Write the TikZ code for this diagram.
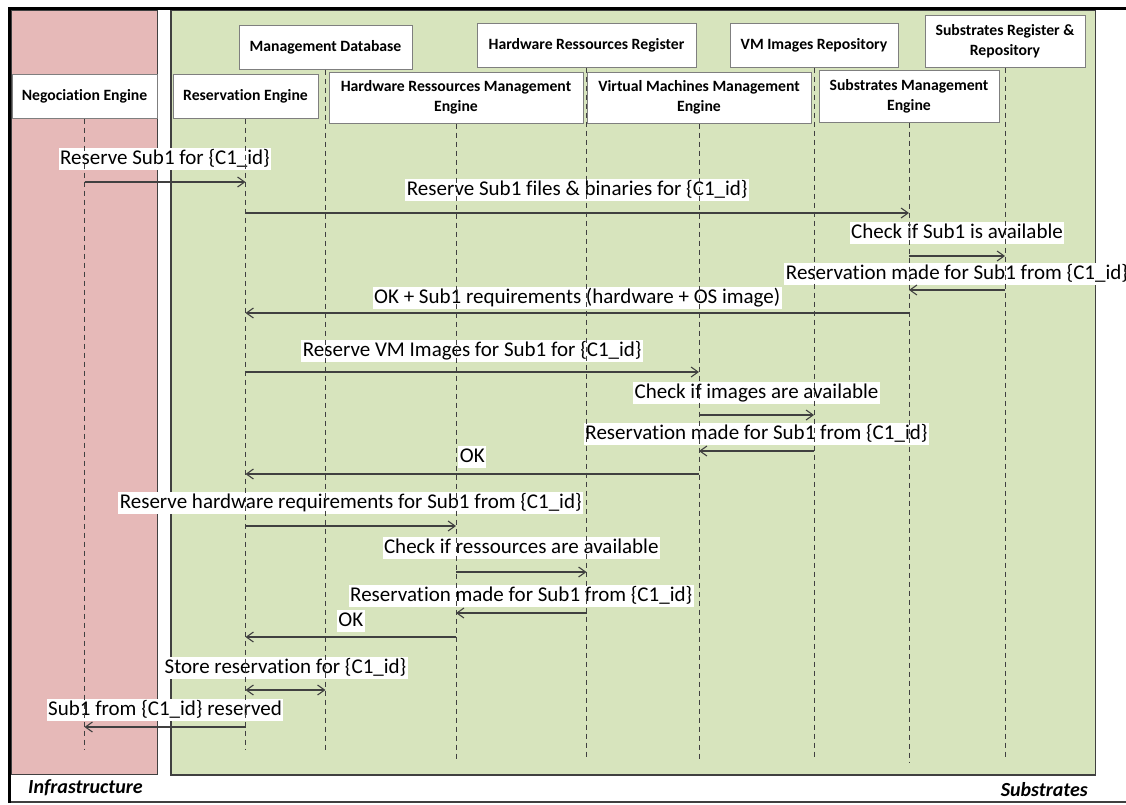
\documentclass[tikz,border=0pt]{standalone}
\usepackage{fontspec}
\setmainfont{Carlito}[Ligatures=NoCommon]
\usetikzlibrary{arrows.meta,calc}
\definecolor{infra}{HTML}{E6B9B8}
\definecolor{subs}{HTML}{D7E4BD}
\definecolor{edge}{HTML}{404040}
\definecolor{boxedge}{HTML}{7F7F7F}

% message: [style]{name}{from}{to}{arrow y}{label y}{text}
\newcommand\seqmsg[7][msg]{%
  \node[lbl] (#2) at ($(#3 |- 0,#6)!0.5!(#4 |- 0,#6)$) {#7};
  \draw[#1] (#3 |- 0,#5) -- (#4 |- 0,#5);
}

\begin{document}
\begin{tikzpicture}[x=1pt,y=-1pt,
  actor/.style={draw=boxedge, line width=1pt, fill=white, align=center, inner sep=0pt,
    font=\fontsize{15.7}{20}\selectfont\bfseries},
  lifeline/.style={draw=edge, line width=1pt, dash pattern=on 5pt off 4pt},
  msg/.style={draw=edge, line width=1.1pt, -{Straight Barb[length=7pt,width=10pt]}},
  msgboth/.style={draw=edge, line width=1.1pt,
    {Straight Barb[length=7pt,width=10pt]}-{Straight Barb[length=7pt,width=10pt]}},
  lbl/.style={fill=white, inner xsep=1.5pt, inner ysep=1pt, text height=15pt, text depth=5pt,
    font=\fontsize{21}{25}\selectfont},
  zone/.style={inner sep=0pt, font=\fontsize{20}{24}\selectfont\bfseries\itshape}
]
\useasboundingbox (0,0) rectangle (1126,804);
\fill[white] (0,0) rectangle (1126,804);

% swimlanes
\draw[fill=infra, draw=edge, line width=1pt] (11,10) rectangle (157.5,774.5);
\draw[fill=subs, draw=edge, line width=1.3pt] (171,10) rectangle (1095.5,775);

% outer frame
\draw[line width=1.8pt, draw=edge] (9.5,802) -- (1140,802);
\draw[line width=3pt] (9.5,803) -- (9.5,8.5) -- (1140,8.5);

\node[zone, anchor=west] (infraname) at (28,788) {Infrastructure};
\node[zone, anchor=east] (subsname) at (1088,790) {Substrates};

% participants
\node[actor, minimum width=145pt, minimum height=44pt] (neg) at (84.5,96) {Negociation Engine};
\node[actor, minimum width=145pt, minimum height=44pt] (res) at (245.5,96) {Reservation Engine};
\node[actor, minimum width=173pt, minimum height=44pt] (mdb) at (325.5,47) {Management Database};
\node[actor, minimum width=254pt, minimum height=51pt] (hwm) at (456,97.5) {Hardware Ressources Management\\Engine};
\node[actor, minimum width=219pt, minimum height=44pt] (hwr) at (586.5,45) {Hardware Ressources Register};
\node[actor, minimum width=224pt, minimum height=51pt] (vmm) at (699,97.5) {Virtual Machines Management\\Engine};
\node[actor, minimum width=168pt, minimum height=44pt] (vmr) at (814,45) {VM Images Repository};
\node[actor, minimum width=180pt, minimum height=52pt] (sme) at (909,96) {Substrates Management\\Engine};
\node[actor, minimum width=160pt, minimum height=52pt] (srr) at (1005,41) {Substrates Register \&\\Repository};

% messages
\seqmsg{m1}{neg}{res}{182}{159}{Reserve Sub1 for \{C1\_id\}}
\seqmsg{m2}{res}{sme}{213}{190}{Reserve Sub1 files \& binaries for \{C1\_id\}}
\seqmsg{m3}{sme}{srr}{256}{233}{Check if Sub1 is available}
\seqmsg{m4}{srr}{sme}{290}{274}{Reservation made for Sub1 from \{C1\_id\}}
\seqmsg{m5}{sme}{res}{313}{298}{OK + Sub1 requirements (hardware + OS image)}
\seqmsg{m6}{res}{vmm}{372}{351}{Reserve VM Images for Sub1 for \{C1\_id\}}
\seqmsg{m7}{vmm}{vmr}{415}{393}{Check if images are available}
\seqmsg{m8}{vmr}{vmm}{451}{434}{Reservation made for Sub1 from \{C1\_id\}}
\seqmsg{m9}{vmm}{res}{474}{457}{OK}
\seqmsg{m10}{res}{hwm}{526}{503}{Reserve hardware requirements for Sub1 from \{C1\_id\}}
\seqmsg{m11}{hwm}{hwr}{572}{548}{Check if ressources are available}
\seqmsg{m12}{hwr}{hwm}{613}{596}{Reservation made for Sub1 from \{C1\_id\}}
\seqmsg{m13}{hwm}{res}{637}{621}{OK}
\seqmsg[msgboth]{m14}{res}{mdb}{690}{668}{Store reservation for \{C1\_id\}}
\seqmsg{m15}{res}{neg}{727}{710}{Sub1 from \{C1\_id\} reserved}

% lifelines
\draw[lifeline] (neg.south) -- (neg.south |- 0,750);
\draw[lifeline] (res.south) -- (res.south |- 0,750);
\draw[lifeline] (mdb.south) -- (mdb.south |- 0,752);
\draw[lifeline] (hwm.south) -- (hwm.south |- 0,760);
\draw[lifeline] (hwr.south) -- (hwr.south |- 0,760);
\draw[lifeline] (vmm.south) -- (vmm.south |- 0,760);
\draw[lifeline] (vmr.south) -- (vmr.south |- 0,760);
\draw[lifeline] (sme.south) -- (sme.south |- 0,763);
\draw[lifeline] (srr.south) -- (srr.south |- 0,760);
\end{tikzpicture}
\end{document}
